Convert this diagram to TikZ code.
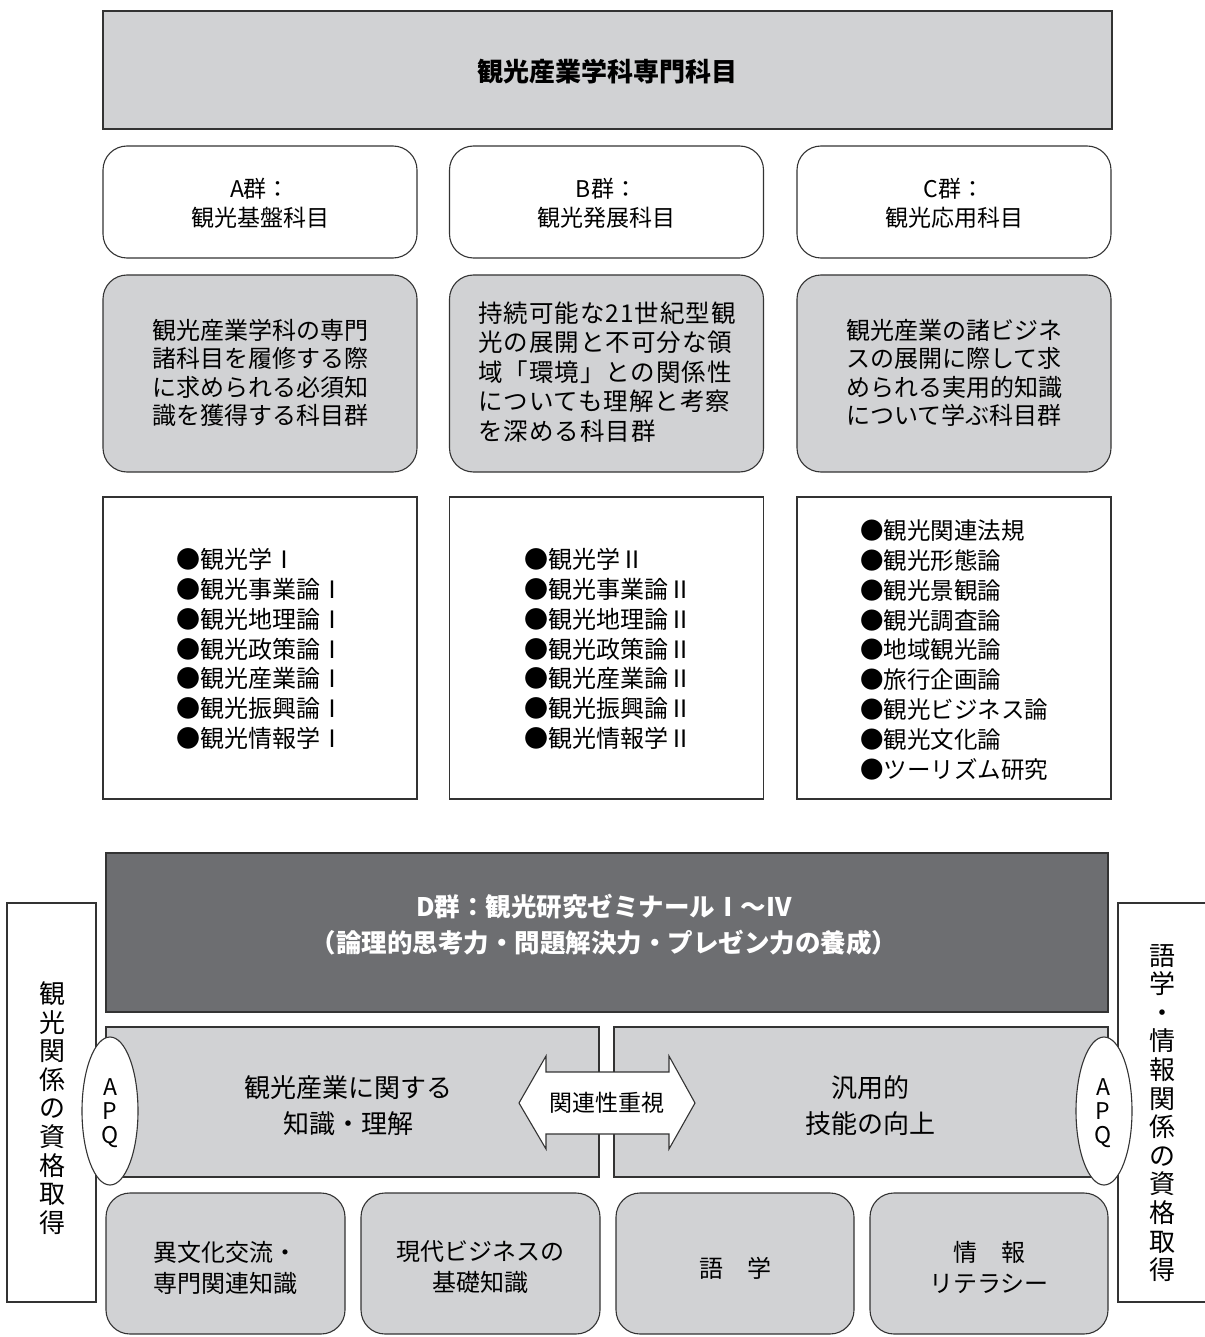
\documentclass[tikz,border=0pt]{standalone}
\usepackage{fontspec}
\setmainfont{Noto Sans CJK JP}
\usetikzlibrary{shapes.geometric}
\definecolor{lg}{HTML}{D1D2D4}
\definecolor{dg}{HTML}{6D6E71}
\definecolor{ln}{HTML}{333333}
\begin{document}
\begin{tikzpicture}[x=1pt,y=-1pt,
  every node/.style={inner sep=0pt, outer sep=0pt, align=center},
  box/.style={draw=ln, line width=1.1pt, rectangle},
  rbox/.style={box, rounded corners=24pt},
  gbox/.style={rbox, fill=lg},
  wbox/.style={rbox, fill=white},
  sqbox/.style={box, fill=white},
  grp/.style={font=\fontsize{23}{29}\selectfont},
  desc/.style={font=\fontsize{24}{28.5}\selectfont},
  lst/.style={font=\fontsize{24}{29.8}\selectfont, align=left, anchor=west},
  midtxt/.style={font=\fontsize{26}{36}\selectfont},
  bottxt/.style={font=\fontsize{24}{31}\selectfont},
  apq/.style={draw=ln, line width=1.1pt, fill=white, ellipse, minimum width=56, minimum height=148},
  apqtxt/.style={font=\fontsize{23}{24}\selectfont},
  vtxt/.style={font=\fontsize{26}{28.6}\selectfont}
]
\useasboundingbox (0,0) rectangle (1204,1337);

% side boxes
\node[sqbox, minimum width=89, minimum height=399] (lside) at (51.5,1102.5) {};
\node[sqbox, minimum width=100, minimum height=399] (rside) at (1168,1102.5) {};
\node[vtxt] (lvt) at (52,1108) {観\\光\\関\\係\\の\\資\\格\\取\\得};
\node[vtxt] (rvt) at (1162,1113) {語\\学\\・\\情\\報\\関\\係\\の\\資\\格\\取\\得};

% header
\node[box, fill=lg, minimum width=1009, minimum height=118] (hdr) at (607.5,70) {};
\node[font=\fontsize{26}{30}\selectfont\bfseries] (hdrt) at (607.5,72) {観光産業学科専門科目};

% row 1
\node[wbox, minimum width=314, minimum height=112] (ga) at (260,202) {};
\node[wbox, minimum width=314, minimum height=112] (gb) at (606.5,202) {};
\node[wbox, minimum width=314, minimum height=112] (gc) at (954,202) {};
\node[grp] (gat) at (260,203) {A群：\\観光基盤科目};
\node[grp] (gbt) at (606.5,203) {B群：\\観光発展科目};
\node[grp] (gct) at (954,203) {C群：\\観光応用科目};

% row 2
\node[gbox, minimum width=314, minimum height=197] (da) at (260,373.5) {};
\node[gbox, minimum width=314, minimum height=197] (db) at (606.5,373.5) {};
\node[gbox, minimum width=314, minimum height=197] (dc) at (954,373.5) {};
\node[desc] (dat) at (260,373) {観光産業学科の専門\\諸科目を履修する際\\に求められる必須知\\識を獲得する科目群};
\node[font=\fontsize{24.5}{29.5}\selectfont\addfontfeatures{LetterSpace=4}, align=left] (dbt) at (607,372) {持続可能な21世紀型観\\光の展開と不可分な領\\域「環境」との関係性\\についても理解と考察\\を深める科目群};
\node[desc] (dct) at (954,373) {観光産業の諸ビジネ\\スの展開に際して求\\められる実用的知識\\について学ぶ科目群};

% row 3
\node[sqbox, minimum width=314, minimum height=302] (la) at (260,648) {};
\node[sqbox, minimum width=314, minimum height=302] (lb) at (606.5,648) {};
\node[sqbox, minimum width=314, minimum height=302] (lc) at (954,648) {};
\node[lst] (lat) at (176,649) {●観光学Ⅰ\\●観光事業論Ⅰ\\●観光地理論Ⅰ\\●観光政策論Ⅰ\\●観光産業論Ⅰ\\●観光振興論Ⅰ\\●観光情報学Ⅰ};
\node[lst] (lbt) at (524,649) {●観光学Ⅱ\\●観光事業論Ⅱ\\●観光地理論Ⅱ\\●観光政策論Ⅱ\\●観光産業論Ⅱ\\●観光振興論Ⅱ\\●観光情報学Ⅱ};
\node[lst, font=\fontsize{23.5}{29.8}\selectfont] (lct) at (860,650) {●観光関連法規\\●観光形態論\\●観光景観論\\●観光調査論\\●地域観光論\\●旅行企画論\\●観光ビジネス論\\●観光文化論\\●ツーリズム研究};

% D group
\node[box, fill=dg, minimum width=1002, minimum height=159] (dbox) at (607,932.5) {};
\node[font=\fontsize{25.5}{36}\selectfont\bfseries, text=white] (dtxt) at (604,925) {D群：観光研究ゼミナールⅠ～Ⅳ\\（論理的思考力・問題解決力・プレゼン力の養成）};

% middle boxes
\node[box, fill=lg, minimum width=493, minimum height=150] (mL) at (352.5,1102) {};
\node[box, fill=lg, minimum width=494, minimum height=150] (mR) at (861,1102) {};
\node[midtxt] (mLt) at (348,1106) {観光産業に関する\\知識・理解};
\node[midtxt] (mRt) at (870,1106) {汎用的\\技能の向上};

% double arrow
\draw[draw=ln, line width=1.1pt, fill=white]
  (519,1103) -- (546,1056) -- (546,1072) -- (669,1072) -- (669,1056) -- (695,1103)
  -- (669,1149) -- (669,1134) -- (546,1134) -- (546,1149) -- cycle;
\node[font=\fontsize{23}{28}\selectfont] (arr) at (607,1103) {関連性重視};

% bottom boxes
\node[gbox, minimum width=239, minimum height=141] (b1) at (225.5,1263.5) {};
\node[gbox, minimum width=239, minimum height=141] (b2) at (480.5,1263.5) {};
\node[gbox, minimum width=238, minimum height=141] (b3) at (735,1263.5) {};
\node[gbox, minimum width=238, minimum height=141] (b4) at (989,1263.5) {};
\node[bottxt] (b1t) at (225.5,1267.5) {異文化交流・\\専門関連知識};
\node[bottxt] (b2t) at (480.5,1267.5) {現代ビジネスの\\基礎知識};
\node[bottxt] (b3t) at (735,1268) {語　学};
\node[bottxt] (b4t) at (989,1267.5) {情　報\\リテラシー};

% APQ ellipses
\node[apq] (apqL) at (110,1111) {};
\node[apq] (apqR) at (1104,1111) {};
\node[apqtxt] (apqLt) at (110,1113) {A\\P\\Q};
\node[apqtxt] (apqRt) at (1103,1113) {A\\P\\Q};
\end{tikzpicture}
\end{document}
